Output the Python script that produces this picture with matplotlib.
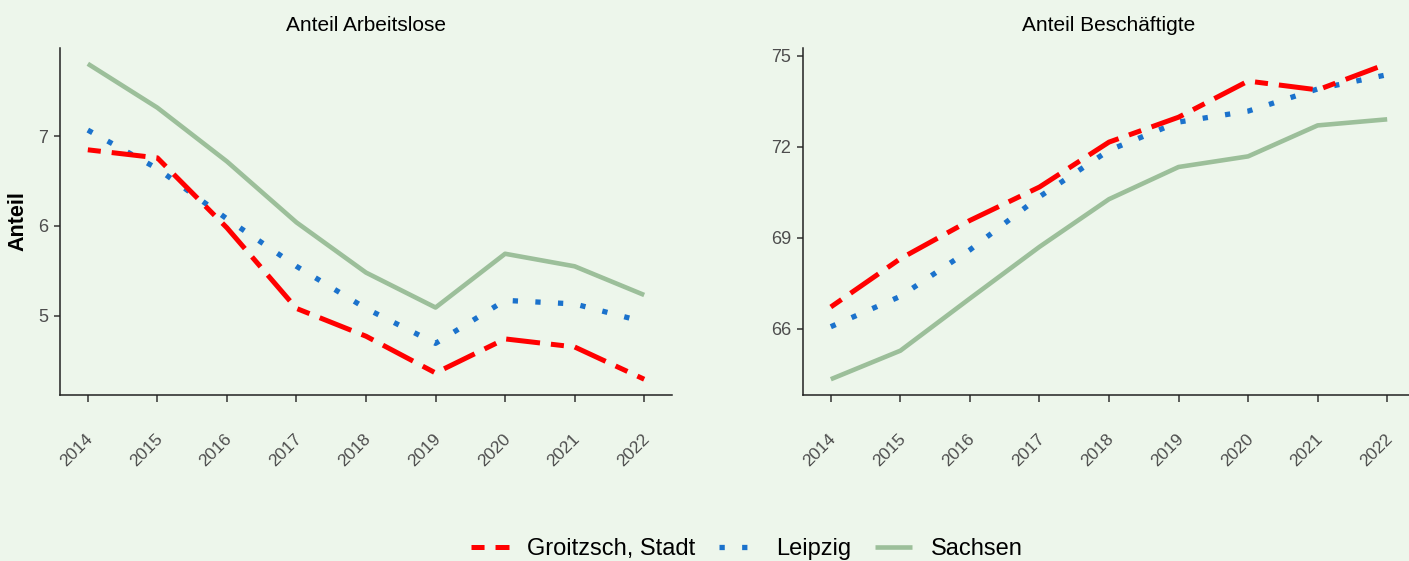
import matplotlib
matplotlib.use("Agg")
import matplotlib.pyplot as plt
import matplotlib.transforms as mtransforms

plt.rcParams['font.family'] = ['Liberation Sans', 'DejaVu Sans']
plt.rcParams['lines.scale_dashes'] = False

years = [2014, 2015, 2016, 2017, 2018, 2019, 2020, 2021, 2022]
regions = ['Groitzsch, Stadt', 'Leipzig', 'Sachsen']

# Anteil Arbeitslose
al_groitzsch = [6.85, 6.76, 5.98, 5.08, 4.77, 4.36, 4.74, 4.65, 4.29]
al_leipzig = [7.07, 6.64, 6.08, 5.55, 5.08, 4.69, 5.17, 5.13, 4.93]
al_sachsen = [7.81, 7.32, 6.72, 6.04, 5.48, 5.09, 5.69, 5.55, 5.23]

# Anteil Beschäftigte
be_groitzsch = [66.72, 68.31, 69.57, 70.67, 72.15, 72.97, 74.16, 73.87, 74.73]
be_leipzig = [66.07, 67.07, 68.60, 70.35, 71.88, 72.81, 73.17, 73.90, 74.37]
be_sachsen = [64.34, 65.28, 67.00, 68.70, 70.27, 71.33, 71.68, 72.70, 72.90]

bg = '#EDF6EB'
styles = {
    'Groitzsch, Stadt': dict(color='#FF0000', lw=3.6, dashes=(9.4, 7.9, 24.5, 7.9), zorder=4, solid_capstyle='butt', dash_capstyle='butt'),
    'Leipzig': dict(color='#1B72CC', lw=3.8, dashes=(3.8, 12.5), zorder=3, dash_capstyle='butt'),
    'Sachsen': dict(color='#9CBF9A', lw=3.3, zorder=2, solid_capstyle='butt'),
}

fig = plt.figure(figsize=(14.09, 5.61), dpi=100, facecolor=bg)
ax1 = fig.add_axes([60/1409, 1-395/561, 612/1409, 347/561])
# right panel runs a bit past the image edge, as in the source
ax2 = fig.add_axes([803/1409, 1-395/561, 612/1409, 347/561])

panels = [
    (ax1, 'Anteil Arbeitslose', [al_groitzsch, al_leipzig, al_sachsen], [5, 6, 7]),
    (ax2, 'Anteil Beschäftigte', [be_groitzsch, be_leipzig, be_sachsen], [66, 69, 72, 75]),
]

for ax, title, series, yticks in panels:
    ax.set_facecolor(bg)
    for name, vals in zip(regions, series):
        ax.plot(years, vals, label=name, **styles[name])
    ax.set_xlim(2013.6, 2022.4)
    ax.margins(y=0.05)
    ax.set_yticks(yticks)
    ax.set_xticks(years)
    ax.set_xticklabels([str(y) for y in years])
    ax.set_title(title, fontsize=15, pad=12)
    for side in ['top', 'right']:
        ax.spines[side].set_visible(False)
    for side in ['left', 'bottom']:
        ax.spines[side].set_linewidth(1.1)
        ax.spines[side].set_color('#222222')
    ax.tick_params(axis='y', length=4.5, width=1.1, color='#333333', labelcolor='#4D4D4D', labelsize=13, pad=4)
    ax.tick_params(axis='x', length=5, width=1.1, color='#333333', labelcolor='#4D4D4D', labelsize=12.5, pad=0)
    offset = mtransforms.ScaledTranslation(-11/100, -48/100, fig.dpi_scale_trans)
    for lab in ax.get_xticklabels():
        lab.set_rotation(45)
        lab.set_rotation_mode('anchor')
        lab.set_ha('center')
        lab.set_va('center')
        lab.set_transform(lab.get_transform() + offset)

fig.text(18/1409, 1-221/561, 'Anteil', rotation=90, fontsize=15.5, fontweight='bold', ha='center', va='center')

handles, labels = ax1.get_legend_handles_labels()
fig.legend(handles, labels, loc='center', bbox_to_anchor=(747/1409, 1-549/561), ncol=3,
           frameon=False, fontsize=17, handlelength=1.6, handletextpad=0.8, columnspacing=1.0)

fig.savefig('out.png', dpi=100, facecolor=bg)
